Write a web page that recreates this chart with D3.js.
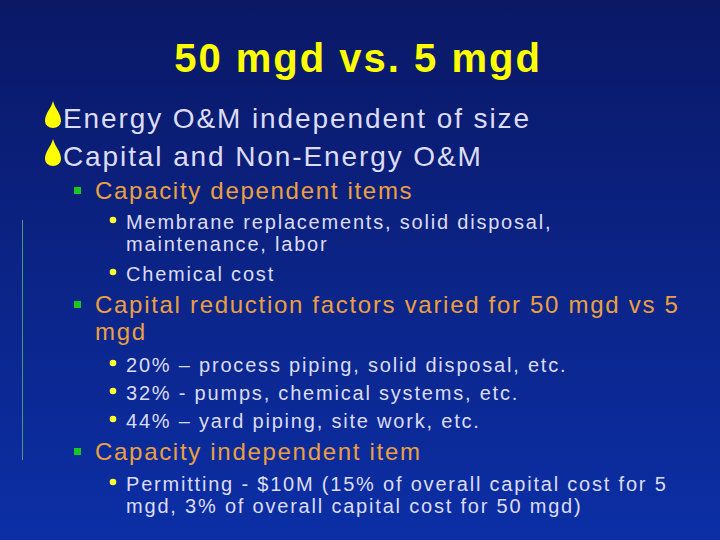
<!DOCTYPE html>
<html><head><meta charset="utf-8">
<script src="https://cdn.jsdelivr.net/npm/d3@7"></script>
<style>body{margin:0;background:#000}</style>
</head><body>
<script>
const title = "50 mgd vs. 5 mgd";
const levels = [1, 1, 2, 3, 0, 3, 2, 0, 3, 3, 3, 2, 3, 0];
const texts = [
  "Energy O&M independent of size",
  "Capital and Non-Energy O&M",
  "Capacity dependent items",
  "Membrane replacements, solid disposal,",
  "maintenance, labor",
  "Chemical cost",
  "Capital reduction factors varied for 50 mgd vs 5",
  "mgd",
  "20% \u2013 process piping, solid disposal, etc.",
  "32% - pumps, chemical systems, etc.",
  "44% \u2013 yard piping, site work, etc.",
  "Capacity independent item",
  "Permitting - $10M (15% of overall capital cost for 5",
  "mgd, 3% of overall capital cost for 50 mgd)"
];
// continuation lines (level 0) inherit the previous bullet's indent
const baselines = [128, 166, 199, 229, 251, 281, 313, 340, 372, 400, 428, 460, 491, 513];

const W = 720, H = 540;
const svg = d3.select("body").append("svg").attr("width", W).attr("height", H);
const defs = svg.append("defs");
const g = defs.append("linearGradient").attr("id", "bg").attr("x1", 0).attr("y1", 0).attr("x2", 0).attr("y2", 1);
g.append("stop").attr("offset", "0%").attr("stop-color", "#0a1866");
g.append("stop").attr("offset", "100%").attr("stop-color", "#0c2fa6");
svg.append("rect").attr("width", W).attr("height", H).attr("fill", "url(#bg)");

svg.append("line").attr("x1", 22.5).attr("x2", 22.5).attr("y1", 220).attr("y2", 460)
  .attr("stroke", "#4a9a7a").attr("stroke-width", 1);

svg.append("text").attr("x", 358).attr("y", 72).attr("text-anchor", "middle")
  .attr("font-family", "Liberation Sans, Arial, sans-serif").attr("font-weight", "bold")
  .attr("font-size", 40).attr("letter-spacing", 2).attr("fill", "#ffff00").text(title);

const style = {
  1: {x: 63, size: 28, ls: 1.9, fill: "#dcdcf6"},
  2: {x: 95, size: 24, ls: 1.7, fill: "#eba040"},
  3: {x: 126, size: 20, ls: 1.8, fill: "#dcdcf6"}
};
let last = 1;
const rows = levels.map((l, i) => {
  const lv = l === 0 ? last : l;
  last = lv;
  return {lv, bullet: l !== 0, text: texts[i], y: baselines[i]};
});

const r = svg.selectAll("g.row").data(rows).join("g").attr("class", "row");
r.append("text")
  .attr("x", d => style[d.lv].x).attr("y", d => d.y)
  .attr("font-family", "Liberation Sans, Arial, sans-serif")
  .attr("font-size", d => style[d.lv].size).attr("letter-spacing", d => style[d.lv].ls)
  .attr("fill", d => style[d.lv].fill)
  .text(d => d.text);

const b = r.filter(d => d.bullet);
b.filter(d => d.lv === 1).append("path")
  .attr("d", d => `M53,${d.y-27} C55,${d.y-19} 61,${d.y-15} 61,${d.y-7} A8,7 0 0 1 45,${d.y-7} C45,${d.y-15} 51,${d.y-19} 53,${d.y-27}Z`)
  .attr("fill", "#ffff00");
b.filter(d => d.lv === 2).append("rect")
  .attr("x", 74).attr("y", d => d.y - 12).attr("width", 7).attr("height", 7).attr("fill", "#19c81e");
b.filter(d => d.lv === 3).append("circle")
  .attr("cx", 113).attr("cy", d => d.y - 9).attr("r", 3.3).attr("fill", "#ffff30");
</script>
</body></html>
